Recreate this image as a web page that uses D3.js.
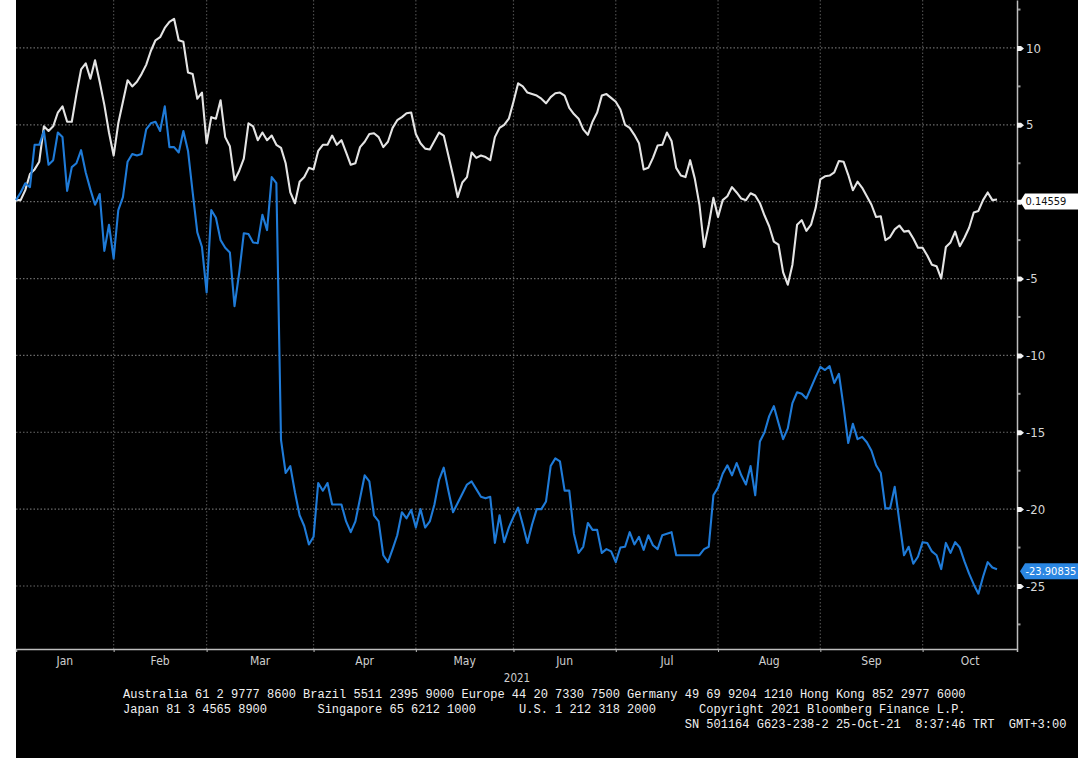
<!DOCTYPE html>
<html>
<head>
<meta charset="utf-8">
<script src="https://cdn.jsdelivr.net/npm/d3@7"></script>
<style>
  html, body { margin: 0; padding: 0; background: #fff; }
  svg { display: block; }
  .mono { font-family: "Liberation Mono", "DejaVu Sans Mono", monospace; white-space: pre; }
  .narrow { font-family: "Liberation Sans Narrow", "DejaVu Sans Condensed", "Roboto Condensed", sans-serif; }
</style>
</head>
<body>
<div id="chart"></div>
<script>
// month labels and the weekday index where each month starts
const monthLabels = ["Jan", "Feb", "Mar", "Apr", "May", "Jun", "Jul", "Aug", "Sep", "Oct"];
const monthStart = [0, 21, 41, 64, 86, 107, 129, 151, 173, 195];
const lastIndex = 215.3; // right edge of the plot, in weekdays

const yMajor = [10, 5, 0, -5, -10, -15, -20, -25];
const yMinor = [12.5, 7.5, 2.5, -2.5, -7.5, -12.5, -17.5, -22.5, -27.5];

// white series, one value per weekday
const whiteSeries = [
  0.1, 0.1, 0.75, 1.8, 2.1, 2.6, 4.9, 4.6, 4.9, 5.8,
  6.2, 5.2, 5.2, 7.0, 8.6, 9.0, 8.0, 9.2, 7.8, 6.3,
  4.5, 3.0, 5.1, 6.5, 7.9, 7.5, 7.8, 8.3, 8.9, 9.8,
  10.5, 10.7, 11.3, 11.7, 11.9, 10.5, 10.4, 8.4, 8.3, 6.7,
  7.1, 3.8, 5.5, 5.4, 6.6, 4.2, 3.6, 1.4, 2.0, 2.8,
  5.1, 4.9, 4.0, 4.5, 4.0, 4.3, 3.7, 3.5, 2.5, 0.6,
  -0.1, 1.3, 1.6, 2.2, 2.1, 3.3, 3.7, 3.7, 4.3, 3.7,
  4.0, 3.2, 2.4, 2.5, 3.55, 3.9, 4.4, 4.45, 4.2, 3.55,
  3.9, 4.8, 5.3, 5.5, 5.75, 5.8, 4.4, 3.8, 3.45, 3.4,
  3.95, 4.5, 4.3, 3.0, 1.7, 0.3, 1.25, 1.6, 3.2, 2.85,
  3.0, 2.9, 2.7, 4.2, 4.8, 5.0, 5.4, 6.5, 7.7, 7.5,
  7.1, 7.0, 6.9, 6.7, 6.4, 6.8, 7.05, 7.1, 6.9, 6.1,
  5.7, 5.4, 4.7, 4.35, 5.2, 5.8, 6.9, 7.0, 6.75, 6.5,
  6.0, 5.0, 4.8, 4.35, 3.8, 2.1, 2.2, 2.85, 3.65, 3.7,
  4.5, 3.95, 2.2, 1.7, 1.6, 2.7, 1.5, -0.2, -2.95, -1.5,
  0.25, -1.0, 0.1, 0.35, 0.95, 0.6, 0.2, 0.1, 0.55, 0.4,
  -0.1, -0.9, -1.6, -2.6, -2.8, -4.6, -5.4, -4.1, -1.5, -1.2,
  -1.9, -1.5, -0.4, 1.45, 1.65, 1.7, 1.9, 2.65, 2.6, 1.75,
  0.75, 1.3, 0.9, 0.35, -0.2, -1.0, -0.95, -2.5, -2.3, -1.8,
  -1.55, -1.95, -1.9, -2.4, -3.0, -3.0, -3.5, -4.1, -4.2, -5.0,
  -2.95, -2.65, -1.95, -2.9, -2.35, -1.7, -0.7, -0.6, 0.1, 0.6,
  0.1, 0.14559
];

// blue series, one value per weekday
const blueSeries = [
  0.1, 0.6, 1.2, 0.95, 3.7, 3.7, 4.6, 2.4, 2.7, 4.5,
  4.2, 0.7, 2.25, 2.5, 3.35, 1.9, 0.8, -0.2, 0.5, -3.2,
  -1.5, -3.7, -0.55, 0.3, 2.6, 3.1, 3.0, 3.1, 4.7, 5.1,
  5.2, 4.6, 6.2, 3.55, 3.55, 3.2, 4.6, 3.3, 0.6, -2.0,
  -2.95, -5.9, -0.55, -1.05, -2.5, -3.0, -3.3, -6.8, -4.65, -2.05,
  -2.1, -2.65, -2.7, -0.85, -1.85, 1.6, 1.2, -15.5, -17.65, -17.2,
  -18.9, -20.4, -21.1, -22.3, -21.8, -18.3, -18.8, -18.3, -19.7, -19.7,
  -19.7, -20.8, -21.5, -20.8, -19.3, -17.8, -18.2, -20.4, -20.8, -23.0,
  -23.45, -22.6, -21.7, -20.2, -20.6, -20.05, -21.2, -20.0, -21.2, -20.8,
  -19.7, -18.1, -17.3, -18.8, -20.2, -19.6, -19.0, -18.4, -18.2, -18.7,
  -19.2, -19.3, -19.2, -22.2, -20.4, -22.15, -21.2, -20.5, -19.9, -21.0,
  -22.2, -21.0, -20.0, -20.0, -19.5, -17.2, -16.7, -16.9, -18.8, -18.8,
  -21.6, -22.85, -22.45, -20.9, -21.35, -21.35, -22.85, -22.6, -22.75, -23.45,
  -22.5, -22.45, -21.5, -22.3, -21.8, -22.65, -21.7, -22.35, -22.6, -21.7,
  -21.6, -21.5, -23.0, -23.0, -23.0, -23.0, -23.0, -23.0, -22.6, -22.45,
  -19.1, -18.6, -17.7, -17.15, -17.8, -17.0, -17.8, -18.4, -17.2, -19.1,
  -15.6, -15.0, -13.95, -13.3, -14.4, -15.45, -14.75, -13.1, -12.4, -12.5,
  -12.8, -12.1, -11.4, -10.75, -10.95, -10.7, -11.8, -11.2, -13.35, -15.7,
  -14.45, -15.45, -15.3, -15.65, -16.2, -17.15, -17.65, -19.95, -19.95, -18.55,
  -20.8, -23.0, -22.45, -23.55, -23.1, -22.15, -22.2, -22.75, -23.0, -23.9,
  -22.2, -22.85, -22.15, -22.5, -23.4, -24.2, -24.9, -25.5, -24.4, -23.45,
  -23.8, -23.90835
];

const whiteLast = "0.14559";
const blueLast = "-23.90835";

const footerLines = [
  "Australia 61 2 9777 8600 Brazil 5511 2395 9000 Europe 44 20 7330 7500 Germany 49 69 9204 1210 Hong Kong 852 2977 6000",
  "Japan 81 3 4565 8900       Singapore 65 6212 1000      U.S. 1 212 318 2000      Copyright 2021 Bloomberg Finance L.P.",
  "                                                                              SN 501164 G623-238-2 25-Oct-21  8:37:46 TRT  GMT+3:00"
];

const W = 1078, H = 758;
const plot = { left: 16, right: 1017, top: 0, bottom: 649 };

const svg = d3.select("#chart").append("svg")
  .attr("width", W)
  .attr("height", H);

svg.append("rect")
  .attr("x", plot.left).attr("y", 0)
  .attr("width", W - plot.left).attr("height", H)
  .attr("fill", "#000");

const x = d3.scaleLinear().domain([0, lastIndex]).range([plot.left, plot.right]);
const y = d3.scaleLinear().domain([-29.1, 13.12]).range([plot.bottom, plot.top]);

// grid
const grid = svg.append("g");
grid.selectAll("line.h")
  .data(yMajor)
  .enter().append("line")
  .attr("x1", plot.left).attr("x2", plot.right)
  .attr("y1", d => y(d)).attr("y2", d => y(d))
  .attr("stroke", "#6a6a6a")
  .attr("stroke-width", 1.2)
  .attr("stroke-dasharray", "1.5,2");

grid.selectAll("line.v")
  .data(monthStart.slice(1))
  .enter().append("line")
  .attr("x1", d => x(d)).attr("x2", d => x(d))
  .attr("y1", plot.top).attr("y2", plot.bottom)
  .attr("stroke", "#4a4a4a")
  .attr("stroke-width", 1.2)
  .attr("stroke-dasharray", "1.5,2");

// lines
const line = d3.line()
  .x((d, i) => x(i))
  .y(d => y(d));

svg.append("path")
  .datum(whiteSeries)
  .attr("d", line)
  .attr("fill", "none")
  .attr("stroke", "#e4e4e4")
  .attr("stroke-width", 2.1)
  .attr("stroke-linejoin", "round");

svg.append("path")
  .datum(blueSeries)
  .attr("d", line)
  .attr("fill", "none")
  .attr("stroke", "#1f7bd8")
  .attr("stroke-width", 2.1)
  .attr("stroke-linejoin", "round");

// right axis; the 0 label sits under the white value box
const yAxis = d3.axisRight(y).tickValues(yMajor).tickSize(0).tickPadding(9)
  .tickFormat(d => d === 0 ? "" : String(d));
const gy = svg.append("g")
  .attr("transform", `translate(${plot.right},0)`)
  .call(yAxis);
gy.select(".domain").attr("stroke", "#bdbdbd").attr("stroke-width", 1.5);
gy.selectAll("text")
  .attr("class", "narrow")
  .attr("fill", "#d8d8d8")
  .attr("font-size", 13);
gy.selectAll(".tick").append("path")
  .attr("d", "M0,-2.5 L4,-2.5 L7,0 L4,2.5 L0,2.5 Z")
  .attr("fill", "#f2f2f2");

svg.append("g").selectAll("rect")
  .data(yMinor)
  .enter().append("rect")
  .attr("x", plot.right + 1).attr("y", d => y(d) - 1)
  .attr("width", 2.5).attr("height", 2)
  .attr("fill", "#9a9a9a");

// bottom axis
const xAxis = d3.axisBottom(x).tickValues(monthStart).tickSize(3).tickFormat("");
const gx = svg.append("g")
  .attr("transform", `translate(0,${plot.bottom})`)
  .call(xAxis);
gx.select(".domain").attr("stroke", "#bdbdbd").attr("stroke-width", 1.5);
gx.selectAll(".tick line").attr("stroke", "#bdbdbd");

svg.append("g").selectAll("text")
  .data(monthLabels)
  .enter().append("text")
  .attr("class", "narrow")
  .attr("x", (d, i) => i < monthLabels.length - 1 ? x((monthStart[i] + monthStart[i + 1]) / 2) : x(205.2))
  .attr("y", 665)
  .attr("text-anchor", "middle")
  .attr("font-size", 12)
  .attr("fill", "#cfcfcf")
  .text(d => d);

svg.append("text")
  .attr("class", "narrow")
  .attr("x", 517).attr("y", 682)
  .attr("text-anchor", "middle")
  .attr("font-size", 11.5)
  .attr("fill", "#cfcfcf")
  .text("2021");

// last value labels
function lastLabel(val, txt, fill, color) {
  const cy = y(val) + 2;
  const g = svg.append("g").attr("transform", `translate(${plot.right + 3},${cy})`);
  g.append("path")
    .attr("d", "M0,0 L5,-8 L58,-8 L58,8 L5,8 Z")
    .attr("fill", fill);
  g.append("text")
    .attr("class", "narrow")
    .attr("x", 5.5).attr("y", 4)
    .attr("font-size", 11)
    .attr("fill", color)
    .text(txt);
}
lastLabel(whiteSeries[whiteSeries.length - 1], whiteLast, "#ffffff", "#111");
lastLabel(blueSeries[blueSeries.length - 1], blueLast, "#2a86e2", "#fff");

// footer
svg.append("g").selectAll("text")
  .data(footerLines)
  .enter().append("text")
  .attr("class", "mono")
  .attr("x", 123)
  .attr("y", (d, i) => 698 + i * 15)
  .attr("font-size", 12)
  .attr("fill", "#f0f0f0")
  .text(d => d);
</script>
</body>
</html>
